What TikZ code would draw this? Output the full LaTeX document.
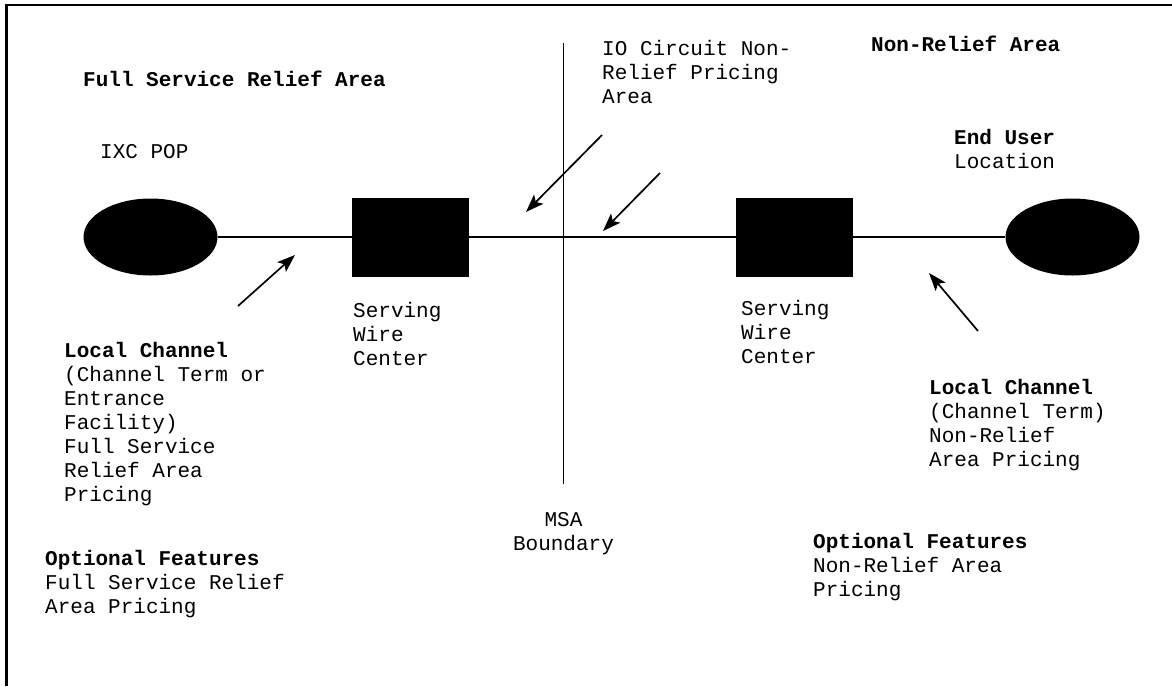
\documentclass[tikz,border=0pt]{standalone}
\usepackage{fontspec}
\setmainfont{Liberation Mono}
\usetikzlibrary{shapes.geometric,arrows.meta}
\begin{document}
\begin{tikzpicture}[x=1pt,y=-1pt,
  txt/.style={anchor=base west,inner sep=0pt,font=\fontsize{21}{24}\selectfont},
  btxt/.style={anchor=base west,inner sep=0pt,font=\fontsize{21}{24}\selectfont\bfseries},
  ctxt/.style={anchor=base,inner sep=0pt,font=\fontsize{21}{24}\selectfont},
  blob/.style={ellipse,fill=black,minimum width=134pt,minimum height=77pt,inner sep=0pt},
  box/.style={rectangle,fill=black,minimum width=117pt,minimum height=79pt,inner sep=0pt},
  wire/.style={line width=1.7pt},
  ptr/.style={line width=1.7pt,-{Stealth[length=18pt,width=13pt,inset=4pt]}},
  frame/.style={line width=2.6pt}]
\useasboundingbox (0,0) rectangle (1172,686);
% frame
\coordinate (fbl) at (6.5,686);
\coordinate (ftl) at (6.5,5);
\coordinate (ftr) at (1172,5);
\draw[frame] (fbl) -- (ftl) -- (ftr);

% shapes
\node[blob] (pop) at (150.5,237) {};
\node[box]  (swc1) at (410.5,237) {};
\node[box]  (swc2) at (794.5,237) {};
\node[blob] (eu) at (1072.5,237) {};
\draw[wire] (pop.east) -- (swc1.west);
\draw[wire] (swc1.east) -- (swc2.west);
\draw[wire] (swc2.east) -- (eu.west);

% MSA boundary line
\coordinate (msatop) at (563.5,43);
\coordinate (msabot) at (563.5,484);
\draw[wire] (msatop) -- (msabot);

% arrows
\coordinate (a1s) at (602,135);  \coordinate (a1e) at (526,212);
\coordinate (a2s) at (660,173);  \coordinate (a2e) at (603,231);
\coordinate (a3s) at (238,306);  \coordinate (a3e) at (295,255);
\coordinate (a4s) at (978,331);  \coordinate (a4e) at (929,273);
\draw[ptr] (a1s) -- (a1e);
\draw[ptr] (a2s) -- (a2e);
\draw[ptr] (a3s) -- (a3e);
\draw[ptr] (a4s) -- (a4e);

% texts
\node[btxt] (fsra) at (83,86) {Full Service Relief Area};
\node[txt]  (ixc) at (100,158) {IXC POP};
\node[btxt] (nra) at (871,51) {Non-Relief Area};
\node[btxt] (eu1) at (954,144) {End User};
\node[txt]  (eu2) at (954,168) {Location};

\node[txt] (io1) at (602,55) {IO Circuit Non-};
\node[txt] (io2) at (602,79) {Relief Pricing};
\node[txt] (io3) at (602,103) {Area};

\node[txt] (s1a) at (353,317) {Serving};
\node[txt] (s1b) at (353,341) {Wire};
\node[txt] (s1c) at (353,365) {Center};
\node[txt] (s2a) at (741,315) {Serving};
\node[txt] (s2b) at (741,339) {Wire};
\node[txt] (s2c) at (741,363) {Center};

\node[btxt] (lc1) at (64,357) {Local Channel};
\node[txt]  (lc2) at (64,381) {(Channel Term or};
\node[txt]  (lc3) at (64,405) {Entrance};
\node[txt]  (lc4) at (64,429) {Facility)};
\node[txt]  (lc5) at (64,453) {Full Service};
\node[txt]  (lc6) at (64,477) {Relief Area};
\node[txt]  (lc7) at (64,501) {Pricing};

\node[btxt] (rc1) at (929,394) {Local Channel};
\node[txt]  (rc2) at (929,418) {(Channel Term)};
\node[txt]  (rc3) at (929,442) {Non-Relief};
\node[txt]  (rc4) at (929,466) {Area Pricing};

\node[ctxt] (msa1) at (563.5,526) {MSA};
\node[ctxt] (msa2) at (563.5,550) {Boundary};

\node[btxt] (of1) at (45,565) {Optional Features};
\node[txt]  (of2) at (45,589) {Full Service Relief};
\node[txt]  (of3) at (45,613) {Area Pricing};

\node[btxt] (or1) at (813,548) {Optional Features};
\node[txt]  (or2) at (813,572) {Non-Relief Area};
\node[txt]  (or3) at (813,596) {Pricing};
\end{tikzpicture}
\end{document}
